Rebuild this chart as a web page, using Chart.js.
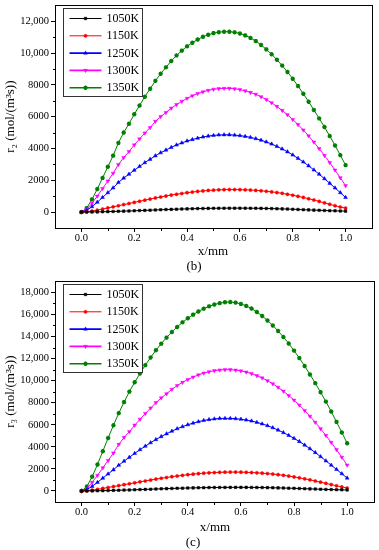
<!DOCTYPE html>
<html>
<head>
<meta charset="utf-8">
<script src="https://cdn.jsdelivr.net/npm/chart.js@4.4.1/dist/chart.umd.min.js"></script>
<style>
  body { margin: 0; background: #fff; width: 379px; height: 550px; position: relative; overflow: hidden; font-family: 'Liberation Serif', 'DejaVu Serif', serif; }
  .box { position: absolute; left: 0; width: 379px; }
  .lbl { position: absolute; font-size: 13px; color: #000; transform: translate(-50%, -50%); white-space: nowrap; }
</style>
</head>
<body>
<div class="box" style="top:0;height:247px"><canvas id="chartB" width="379" height="247"></canvas></div>
<div class="lbl" style="left:213px;top:251px">x/mm</div>
<div class="lbl" style="left:194px;top:266px">(b)</div>
<div class="box" style="top:276px;height:245px"><canvas id="chartC" width="379" height="245"></canvas></div>
<div class="lbl" style="left:215px;top:527px">x/mm</div>
<div class="lbl" style="left:193px;top:542px">(c)</div>
<script>
// x positions (mm)
const xs = [0, 0.02, 0.04, 0.06, 0.08, 0.10, 0.12, 0.14, 0.16, 0.18, 0.20, 0.22, 0.24, 0.26, 0.28, 0.30,
    0.32, 0.34, 0.36, 0.38, 0.40, 0.42, 0.44, 0.46, 0.48, 0.50, 0.52, 0.54, 0.56, 0.58, 0.60, 0.62, 0.64,
    0.66, 0.68, 0.70, 0.72, 0.74, 0.76, 0.78, 0.80, 0.82, 0.84, 0.86, 0.88, 0.90, 0.92, 0.94, 0.96, 0.98, 1.00];

const temps = ['1050K', '1150K', '1250K', '1300K', '1350K'];

// (b) r2
const r2_1050 = [0,3,8,15,22,30,40,50,60,70,82,95,108,120,135,148,160,172,183,193,203,212,220,227,233,238,242,245,247,248,248,246,243,239,234,228,220,211,201,190,178,165,152,138,125,112,100,88,78,68,60];
const r2_1150 = [0,20,60,120,190,260,330,400,470,540,610,680,750,820,890,950,1010,1070,1120,1170,1220,1260,1300,1330,1360,1380,1400,1410,1415,1415,1410,1400,1385,1365,1340,1310,1270,1230,1180,1120,1060,990,920,840,760,670,580,490,400,320,250];
const r2_1250 = [0,110,340,620,920,1220,1520,1860,2140,2380,2630,2870,3110,3320,3540,3730,3900,4070,4220,4350,4470,4560,4650,4720,4780,4820,4850,4860,4860,4840,4810,4760,4700,4620,4520,4410,4280,4130,3970,3790,3590,3380,3150,2910,2650,2380,2100,1810,1520,1220,920];
const r2_1300 = [0,170,550,1000,1480,1950,2440,2990,3430,3800,4220,4600,4970,5310,5700,6000,6260,6530,6760,6960,7150,7310,7450,7560,7650,7720,7760,7780,7780,7750,7700,7620,7520,7400,7250,7070,6870,6640,6390,6120,5820,5500,5160,4790,4400,3990,3560,3110,2640,2160,1660];
const r2_1350 = [0,250,800,1450,2150,2850,3550,4350,5000,5550,6150,6700,7250,7750,8250,8700,9100,9500,9850,10150,10420,10650,10850,11020,11150,11250,11310,11340,11340,11300,11230,11110,10950,10750,10510,10230,9920,9580,9210,8810,8380,7920,7440,6940,6420,5890,5350,4780,4190,3580,2950];

// (c) r3
const r3_1050 = [0,4,10,20,29,40,53,66,79,92,108,125,143,158,178,195,211,227,242,255,268,280,290,300,308,314,319,323,326,327,327,325,321,316,309,301,291,280,267,253,238,222,205,188,172,156,141,127,114,102,90];
const r3_1150 = [0,25,75,145,230,315,400,485,570,655,740,825,905,990,1075,1150,1220,1295,1355,1415,1475,1525,1570,1610,1645,1670,1690,1705,1710,1710,1705,1690,1670,1645,1615,1575,1530,1480,1420,1350,1275,1190,1100,1005,905,800,690,580,470,365,270];
const r3_1250 = [0,130,420,780,1160,1540,1920,2330,2700,3050,3400,3740,4060,4370,4660,4930,5180,5420,5640,5830,6000,6150,6280,6390,6470,6530,6570,6580,6580,6550,6500,6430,6340,6220,6080,5920,5730,5520,5290,5040,4770,4480,4160,3830,3480,3110,2730,2340,1950,1560,1170];
const r3_1300 = [0,240,780,1410,2090,2760,3440,4220,4850,5370,5960,6500,7020,7510,8000,8430,8810,9210,9550,9840,10100,10320,10520,10680,10800,10900,10960,10990,10990,10950,10880,10770,10630,10450,10240,9990,9710,9390,9040,8650,8230,7780,7290,6770,6220,5640,5030,4400,3740,3050,2340];
const r3_1350 = [0,400,1300,2400,3600,4800,5950,7050,8050,9000,9850,10650,11400,12100,12750,13350,13900,14400,14860,15280,15650,15980,16270,16520,16730,16900,17020,17100,17120,17070,16950,16770,16530,16220,15860,15450,15000,14500,13950,13360,12720,12040,11320,10560,9770,8950,8100,7200,6260,5300,4320];

const FONT = "'Liberation Serif', 'DejaVu Serif', serif";

const styles = [
    { color: '#000000', pointStyle: 'rect', radius: 1.8, rotation: 0, bw: 0.5 },
    { color: '#ff0000', pointStyle: 'circle', radius: 1.6, rotation: 0, bw: 0.5 },
    { color: '#0000ff', pointStyle: 'triangle', radius: 2.2, rotation: 0, bw: 0.5 },
    { color: '#ff00ff', pointStyle: 'triangle', radius: 2.2, rotation: 180, bw: 0.5 },
    { color: '#008000', pointStyle: 'star', radius: 2.2, rotation: 0, bw: 1.3 }
];

function toPoints(vals) {
    return xs.map((x, i) => ({ x: x, y: vals[i] }));
}

// frame, minor ticks and the boxed legend
const framePlugin = {
    id: 'framePlugin',
    afterDraw(chart) {
        const { ctx, chartArea: a, scales: { x, y } } = chart;
        ctx.save();
        ctx.strokeStyle = '#000';
        ctx.lineWidth = 1;
        const l = Math.round(a.left) + 0.5, t = Math.round(a.top) + 0.5;
        const r = Math.round(a.right) + 0.5, b = Math.round(a.bottom) + 0.5;
        ctx.strokeRect(l, t, r - l, b - t);

        ctx.beginPath();
        for (let v = 1000; v < y.max; v += 2000) {
            const py = Math.round(y.getPixelForValue(v)) + 0.5;
            ctx.moveTo(l - 2.5, py);
            ctx.lineTo(l, py);
        }
        for (let k = 1; k <= 9; k += 2) {
            const px = Math.round(x.getPixelForValue(k / 10)) + 0.5;
            ctx.moveTo(px, b);
            ctx.lineTo(px, b + 2.5);
        }
        ctx.stroke();

        // legend
        const bx = Math.round(a.left + 8) + 0.5, by = Math.round(a.top + 2.5) + 0.5;
        const bw = 79, bh = 88;
        ctx.fillStyle = '#fff';
        ctx.fillRect(bx, by, bw, bh);
        ctx.strokeStyle = '#333';
        ctx.strokeRect(bx, by, bw, bh);
        ctx.font = '12px ' + FONT;
        ctx.textBaseline = 'middle';
        ctx.textAlign = 'left';
        chart.data.datasets.forEach((ds, i) => {
            const st = styles[i];
            const yy = by + 10 + 17.3 * i;
            ctx.strokeStyle = st.color;
            ctx.lineWidth = i < 2 ? 1 : 1.6;
            ctx.beginPath();
            ctx.moveTo(bx + 6, yy);
            ctx.lineTo(bx + 38, yy);
            ctx.stroke();
            ctx.fillStyle = st.color;
            ctx.lineWidth = st.bw;
            if (Chart.helpers && Chart.helpers.drawPoint) {
                Chart.helpers.drawPoint(ctx, { pointStyle: st.pointStyle, rotation: st.rotation, radius: st.radius, borderWidth: st.bw }, bx + 22, yy);
            }
            ctx.fillStyle = '#000';
            ctx.fillText(ds.label, bx + 43, yy + 0.5);
        });
        ctx.restore();
    }
};

function makeChart(id, series, yMax, yTitle, padRight) {
    const datasets = series.map((vals, i) => ({
        label: temps[i],
        data: toPoints(vals),
        borderColor: styles[i].color,
        backgroundColor: styles[i].color,
        borderWidth: 1,
        pointStyle: styles[i].pointStyle,
        pointRotation: styles[i].rotation,
        pointRadius: styles[i].radius,
        pointBorderWidth: styles[i].bw,
        pointBackgroundColor: styles[i].color,
        pointBorderColor: styles[i].color,
        tension: 0
    }));

    return new Chart(document.getElementById(id), {
        type: 'line',
        data: { datasets: datasets },
        plugins: [framePlugin],
        options: {
            responsive: false,
            animation: false,
            devicePixelRatio: 1,
            layout: { padding: { top: 4, right: padRight, left: 0, bottom: 0 } },
            plugins: { legend: { display: false }, tooltip: { enabled: false } },
            scales: {
                x: {
                    type: 'linear',
                    min: -0.1,
                    max: 1.1,
                    afterFit: s => { s.height = 19; s.paddingLeft = 0; s.paddingRight = 0; },
                    ticks: {
                        stepSize: 0.1,
                        autoSkip: false,
                        maxRotation: 0,
                        padding: 0,
                        color: '#000',
                        font: { family: FONT, size: 10.5 },
                        callback: v => {
                            const k = Math.round(v * 10);
                            return (k % 2 === 0 && k >= 0 && k <= 10) ? (k / 10).toFixed(1) : '';
                        }
                    },
                    grid: {
                        drawOnChartArea: false,
                        tickLength: 4,
                        color: c => (Math.round(c.tick.value * 10) % 2 === 0 ? '#000' : 'rgba(0,0,0,0)')
                    },
                    border: { color: '#000', width: 1 }
                },
                y: {
                    min: -1000,
                    max: yMax,
                    afterFit: s => { s.width = 55; s.paddingTop = 0; s.paddingBottom = 0; },
                    ticks: {
                        stepSize: 1000,
                        autoSkip: false,
                        padding: 2,
                        color: '#000',
                        font: { family: FONT, size: 10.5 },
                        callback: v => {
                            if (v < 0 || v % 2000 !== 0) return '';
                            return v >= 10000 ? v.toLocaleString('en-US') : String(v);
                        }
                    },
                    grid: {
                        drawOnChartArea: false,
                        tickLength: 4,
                        color: c => (c.tick.value % 2000 === 0 ? '#000' : 'rgba(0,0,0,0)')
                    },
                    border: { color: '#000', width: 1 },
                    title: {
                        display: true,
                        text: yTitle,
                        color: '#000',
                        font: { family: FONT, size: 13 },
                        padding: { top: 3, bottom: 0 }
                    }
                }
            }
        }
    });
}

makeChart('chartB', [r2_1050, r2_1150, r2_1250, r2_1300, r2_1350], 13000, 'r\u2082 (mol/(m\u00b3s))', 7);
makeChart('chartC', [r3_1050, r3_1150, r3_1250, r3_1300, r3_1350], 19000, 'r\u2083 (mol/(m\u00b3s))', 5);
</script>
</body>
</html>
